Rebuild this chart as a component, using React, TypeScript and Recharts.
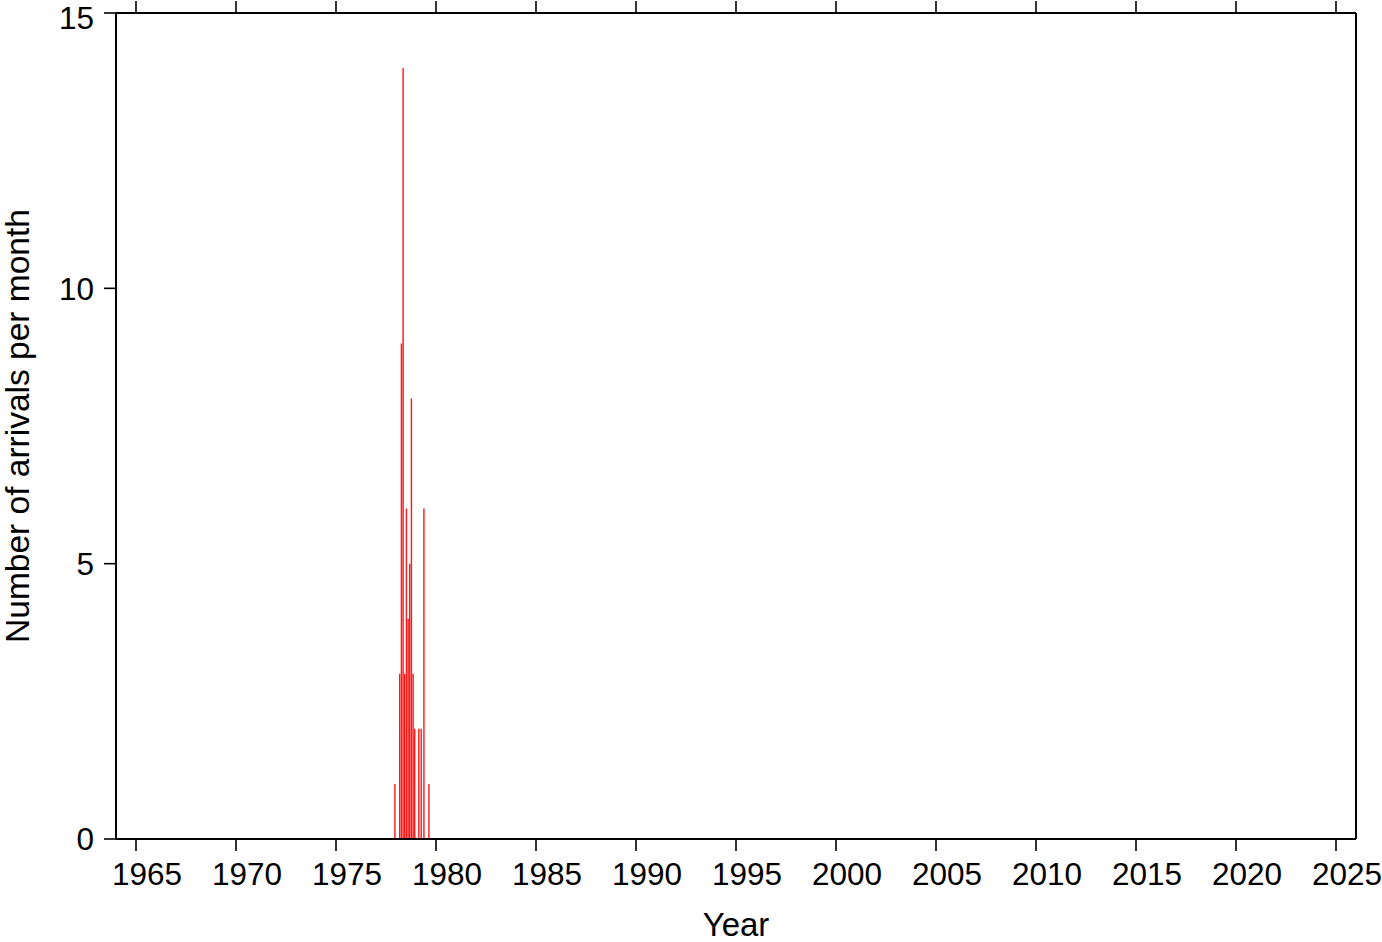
import React from 'react';
import { BarChart, Bar, XAxis, YAxis } from 'recharts';

const arrivalYears = [1977.95, 1978.19, 1978.275, 1978.36, 1978.44, 1978.525, 1978.61, 1978.69, 1978.775, 1978.86, 1978.94, 1979.145, 1979.265, 1979.4, 1979.65];
const arrivalCounts = [1, 3, 9, 14, 3, 6, 4, 5, 8, 3, 2, 2, 2, 6, 1];
const yearTicks = [1965, 1970, 1975, 1980, 1985, 1990, 1995, 2000, 2005, 2010, 2015, 2020, 2025];
const countTicks = [0, 5, 10, 15];

const data = arrivalYears.map((year, i) => ({ year, count: arrivalCounts[i] }));

const FONT = '"Liberation Sans", Helvetica, Arial, sans-serif';
const axisStroke = { stroke: '#000', strokeWidth: 2 };
const tickStroke = { stroke: '#000', strokeWidth: 1.6 };

const NoLabel = () => <g />;

const YLabel = (props: any) => {
  const vb = props.viewBox || {};
  const x = (vb.x ?? 0) + 29;
  const cy = (vb.y ?? 0) + (vb.height ?? 0) / 2;
  return (
    <text x={x} y={cy} transform={`rotate(-90, ${x}, ${cy})`} textAnchor="middle" fontSize={33.5} fontFamily={FONT} fill="#000">
      Number of arrivals per month
    </text>
  );
};

export default function App() {
  return (
    <div style={{ position: 'absolute', left: 0, top: 0, width: 1382, height: 942, background: '#fff', overflow: 'visible' }}>
      <BarChart width={1382} height={942} data={data} margin={{ top: 0, right: 0, bottom: 0, left: 0 }} style={{ overflow: 'visible' }}>
        <XAxis
          dataKey="year"
          type="number"
          domain={[1964, 2026]}
          ticks={yearTicks}
          allowDataOverflow
          height={103}
          axisLine={axisStroke}
          tickLine={tickStroke}
          tickSize={12}
          tickMargin={12}
          tick={{ fontSize: 31.5, fontFamily: FONT, fill: '#000', dx: 11 }}
          label={{ value: 'Year', position: 'insideBottom', offset: 6, fontSize: 33, fontFamily: FONT, fill: '#000' }}
        />
        <XAxis
          xAxisId="top"
          orientation="top"
          dataKey="year"
          type="number"
          domain={[1964, 2026]}
          ticks={yearTicks}
          allowDataOverflow
          height={13}
          axisLine={axisStroke}
          tickLine={tickStroke}
          tickSize={12}
          tick={<NoLabel />}
        />
        <YAxis
          type="number"
          domain={[0, 15]}
          ticks={countTicks}
          width={116}
          axisLine={axisStroke}
          tickLine={tickStroke}
          tickSize={12}
          tickMargin={10}
          tick={{ fontSize: 31.5, fontFamily: FONT, fill: '#000' }}
          label={<YLabel />}
        />
        <YAxis
          yAxisId="right"
          orientation="right"
          type="number"
          domain={[0, 15]}
          ticks={countTicks}
          width={26}
          axisLine={axisStroke}
          tickLine={tickStroke}
          tickSize={12}
          tick={<NoLabel />}
        />
        <Bar dataKey="count" fill="#ff1a1a" barSize={1.7} isAnimationActive={false} />
      </BarChart>
    </div>
  );
}
